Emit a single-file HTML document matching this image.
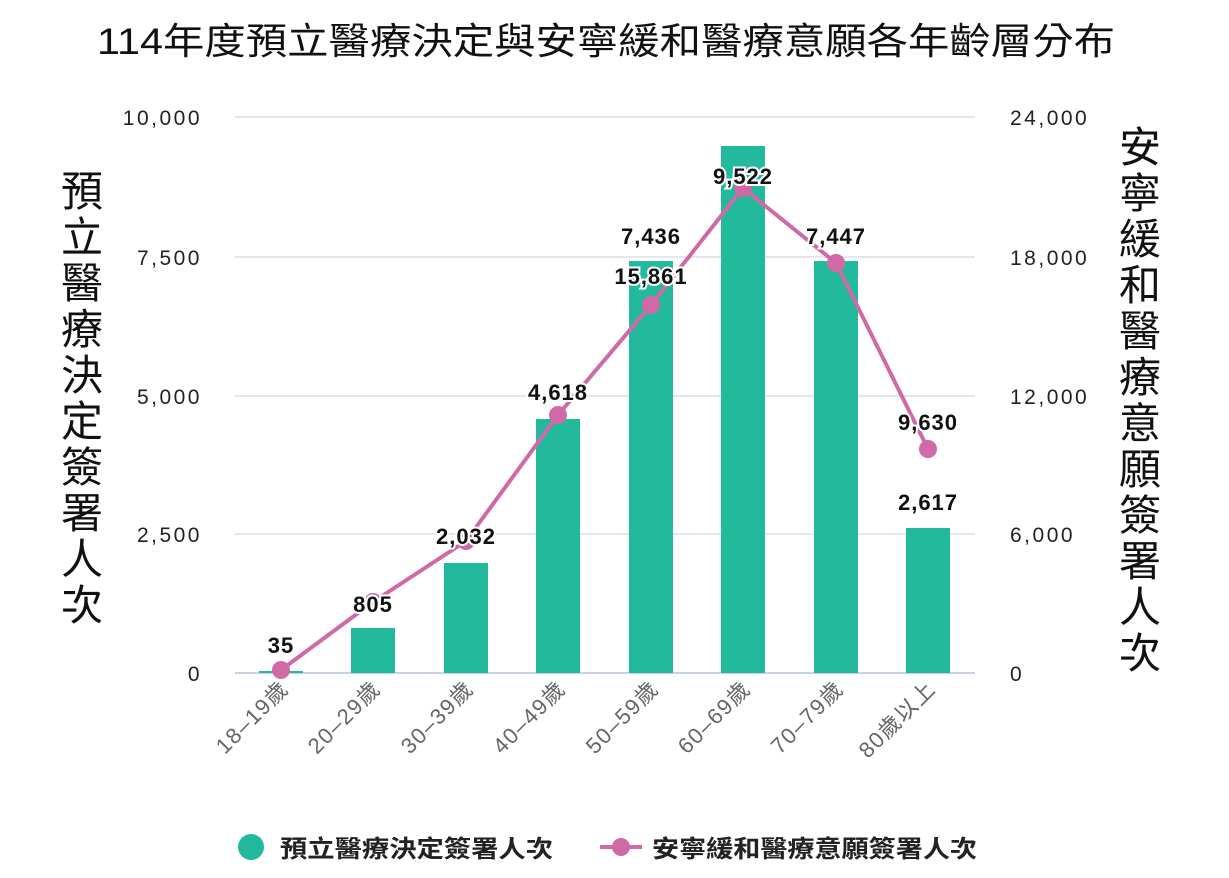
<!DOCTYPE html>
<html><head><meta charset="utf-8"><style>
body{margin:0;background:#fff;}
svg text{font-family:"Liberation Sans","Noto Sans CJK TC",sans-serif;}
</style></head><body>
<svg width="1229" height="873" viewBox="0 0 1229 873" xmlns="http://www.w3.org/2000/svg">
<text x="97" y="54" font-size="37" fill="#111" textLength="1018" lengthAdjust="spacingAndGlyphs">114年度預立醫療決定與安寧緩和醫療意願各年齡層分布</text>
<g stroke="#e3e6ea" stroke-width="2">
<line x1="235" y1="117" x2="975" y2="117"/>
<line x1="235" y1="257" x2="975" y2="257"/>
<line x1="235" y1="396" x2="975" y2="396"/>
<line x1="235" y1="534" x2="975" y2="534"/>
</g>
<line x1="235" y1="673" x2="975" y2="673" stroke="#c9d2e3" stroke-width="2"/>
<g font-size="21" fill="#222" text-anchor="end" letter-spacing="2.5">
<text x="202" y="125">10,000</text><text x="202" y="265">7,500</text><text x="202" y="404">5,000</text><text x="202" y="542">2,500</text><text x="202" y="681">0</text>
</g>
<g font-size="21" fill="#222" text-anchor="start" letter-spacing="2.5">
<text x="1010" y="125">24,000</text><text x="1010" y="265">18,000</text><text x="1010" y="404">12,000</text><text x="1010" y="542">6,000</text><text x="1010" y="681">0</text>
</g>
<g font-size="42" fill="#111" text-anchor="middle">
<text x="82" y="206">預</text><text x="82" y="252">立</text><text x="82" y="298">醫</text><text x="82" y="344">療</text><text x="82" y="390">決</text><text x="82" y="436">定</text><text x="82" y="482">簽</text><text x="82" y="528">署</text><text x="82" y="574">人</text><text x="82" y="620">次</text>
<text x="1140" y="162">安</text><text x="1140" y="208">寧</text><text x="1140" y="254">緩</text><text x="1140" y="300">和</text><text x="1140" y="346">醫</text><text x="1140" y="392">療</text><text x="1140" y="438">意</text><text x="1140" y="484">願</text><text x="1140" y="530">簽</text><text x="1140" y="576">署</text><text x="1140" y="622">人</text><text x="1140" y="668">次</text>
</g>
<g fill="#22b99d">
<rect x="259" y="671" width="44" height="2"/>
<rect x="351" y="628" width="44" height="45"/>
<rect x="444" y="563" width="44" height="110"/>
<rect x="536" y="419" width="44" height="254"/>
<rect x="629" y="261" width="44" height="412"/>
<rect x="721" y="146" width="44" height="527"/>
<rect x="814" y="261" width="44" height="412"/>
<rect x="906" y="528" width="44" height="145"/>
</g>
<polyline points="281,670 373,602 466,541 558,415 651,305 743,188 836,263 928,449" fill="none" stroke="#d06aa6" stroke-width="4"/>
<g fill="#d06aa6">
<circle cx="281" cy="670" r="9"/><circle cx="373" cy="602" r="9"/><circle cx="466" cy="541" r="9"/><circle cx="558" cy="415" r="9"/><circle cx="651" cy="305" r="9"/><circle cx="743" cy="188" r="9"/><circle cx="836" cy="263" r="9"/><circle cx="928" cy="449" r="9"/>
</g>
<g font-size="22" font-weight="bold" fill="#111" text-anchor="middle" stroke="#fff" stroke-width="4" paint-order="stroke" letter-spacing="1">
<text x="281" y="653">35</text><text x="373" y="612">805</text><text x="466" y="544">2,032</text><text x="558" y="400">4,618</text><text x="651" y="244">7,436</text><text x="651" y="284">15,861</text><text x="743" y="184">9,522</text><text x="836" y="244">7,447</text><text x="928" y="430">9,630</text><text x="928" y="510">2,617</text>
</g>
<g font-size="22" fill="#666" text-anchor="end" letter-spacing="1.5">
<text transform="translate(290,690) rotate(-45)">18–19歲</text>
<text transform="translate(382,690) rotate(-45)">20–29歲</text>
<text transform="translate(475,690) rotate(-45)">30–39歲</text>
<text transform="translate(567,690) rotate(-45)">40–49歲</text>
<text transform="translate(660,690) rotate(-45)">50–59歲</text>
<text transform="translate(752,690) rotate(-45)">60–69歲</text>
<text transform="translate(845,690) rotate(-45)">70–79歲</text>
<text transform="translate(937,690) rotate(-45)">80歲以上</text>
</g>
<circle cx="251" cy="847" r="13" fill="#22b99d"/>
<text x="280" y="857" font-size="24" font-weight="bold" fill="#222" textLength="273" lengthAdjust="spacingAndGlyphs">預立醫療決定簽署人次</text>
<line x1="600" y1="847" x2="642" y2="847" stroke="#d06aa6" stroke-width="4"/>
<circle cx="621" cy="847" r="9" fill="#d06aa6"/>
<text x="652" y="857" font-size="24" font-weight="bold" fill="#222" textLength="325" lengthAdjust="spacingAndGlyphs">安寧緩和醫療意願簽署人次</text>
</svg>
</body></html>
